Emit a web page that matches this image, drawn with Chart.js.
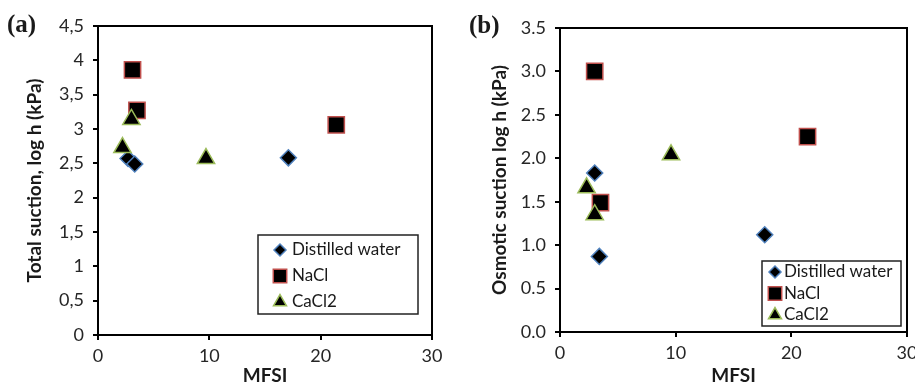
<!DOCTYPE html>
<html>
<head>
<meta charset="utf-8">
<script src="https://cdn.jsdelivr.net/npm/chart.js@4"></script>
<style>
    body { margin: 0; background: #fff; width: 915px; height: 387px; position: relative; overflow: hidden; }
    .panel { position: absolute; top: 0; height: 387px; overflow: hidden; }
    .tag { position: absolute; font: bold 25px "Liberation Serif", "DejaVu Serif", serif; line-height: 1; color: #1a1a1a; }
</style>
</head>
<body>
<div class="panel" style="left:0;width:457px"><canvas id="chartA" width="457" height="387"></canvas></div>
<div class="panel" style="left:457px;width:458px"><canvas id="chartB" width="475" height="387"></canvas></div>
<div class="tag" style="left:7px;top:11px">(a)</div>
<div class="tag" style="left:469px;top:12px">(b)</div>
<script>
// (a) total suction
const waterA_x = [2.7, 3.3, 17.1];
const waterA_y = [2.57, 2.49, 2.58];
const naclA_x = [3.1, 3.5, 21.4];
const naclA_y = [3.86, 3.27, 3.06];
const cacl2A_x = [2.2, 3.0, 9.7];
const cacl2A_y = [2.73, 3.14, 2.57];

// (b) osmotic suction
const waterB_x = [3.0, 3.4, 17.7];
const waterB_y = [1.83, 0.87, 1.12];
const naclB_x = [3.0, 3.5, 21.4];
const naclB_y = [3.0, 1.49, 2.25];
const cacl2B_x = [2.3, 3.0, 9.6];
const cacl2B_y = [1.66, 1.35, 2.04];

const seriesNames = ["Distilled water", "NaCl", "CaCl2"];

Chart.defaults.font.family = "Lato, 'Open Sans', sans-serif";
Chart.defaults.color = "#262626";

const pts = (xs, ys) => xs.map((x, i) => ({ x: x, y: ys[i] }));

function makeDatasets(wx, wy, nx, ny, cx, cy) {
    return [
        { label: seriesNames[0], data: pts(wx, wy), pointStyle: "rectRot", pointRadius: 8,
          pointBackgroundColor: "#000", pointBorderColor: "#4f81bd", pointBorderWidth: 1.5, order: 3 },
        { label: seriesNames[1], data: pts(nx, ny), pointStyle: "rect", pointRadius: 11.5,
          pointBackgroundColor: "#000", pointBorderColor: "#c0504d", pointBorderWidth: 1.5, order: 2 },
        { label: seriesNames[2], data: pts(cx, cy), pointStyle: "triangle", pointRadius: 10,
          pointBackgroundColor: "#000", pointBorderColor: "#9bbb59", pointBorderWidth: 1.5, order: 1 },
    ];
}

// black frame round the plot area
const frame = {
    id: "frame",
    beforeDatasetsDraw(chart) {
        const a = chart.chartArea, ctx = chart.ctx;
        ctx.save();
        ctx.strokeStyle = "#000";
        ctx.lineWidth = 2;
        ctx.strokeRect(a.left, a.top, a.right - a.left, a.bottom - a.top);
        ctx.restore();
    },
};

// legend box inside the plot, bottom right
const boxLegend = {
    id: "boxLegend",
    afterDraw(chart, args, o) {
        const a = chart.chartArea, ctx = chart.ctx;
        const x = a.right - o.right - o.width;
        const y = a.bottom - o.bottom - o.height;
        ctx.save();
        ctx.fillStyle = "#fff";
        ctx.fillRect(x, y, o.width, o.height);
        ctx.strokeStyle = "#222";
        ctx.lineWidth = 1.5;
        ctx.strokeRect(x, y, o.width, o.height);
        ctx.font = "17px Lato, 'Open Sans', sans-serif";
        ctx.textBaseline = "middle";
        chart.data.datasets.forEach((ds, i) => {
            const cy = y + o.firstRow + i * o.rowGap;
            ctx.fillStyle = ds.pointBackgroundColor;
            ctx.strokeStyle = ds.pointBorderColor;
            ctx.lineWidth = ds.pointBorderWidth;
            Chart.helpers.drawPoint(ctx, { pointStyle: ds.pointStyle, radius: o.marker[i], rotation: 0, borderWidth: ds.pointBorderWidth }, x + o.markerX, cy);
            ctx.fillStyle = "#1a1a1a";
            ctx.fillText(ds.label, x + o.textX, cy);
        });
        ctx.restore();
    },
};

function makeChart(id, datasets, cfg) {
    return new Chart(document.getElementById(id), {
        type: "scatter",
        data: { datasets: datasets },
        plugins: [frame, boxLegend],
        options: {
            responsive: false,
            animation: false,
            layout: { padding: { left: 0, top: cfg.top, right: cfg.right, bottom: 0 } },
            plugins: {
                legend: { display: false },
                tooltip: { enabled: false },
                boxLegend: cfg.legend,
            },
            scales: {
                x: {
                    type: "linear",
                    min: 0,
                    max: 30,
                    afterFit: (s) => { s.height = cfg.xHeight; },
                    ticks: { stepSize: 10, padding: 5, font: { size: 18 } },
                    grid: { drawOnChartArea: false, drawTicks: true, tickLength: 5, color: "#000", lineWidth: 2 },
                    border: { display: true, color: "#000", width: 2 },
                    title: { display: true, text: "MFSI", color: "#1a1a1a", padding: 0, font: { size: 19, weight: "bold" } },
                },
                y: {
                    min: 0,
                    max: cfg.yMax,
                    afterFit: (s) => { s.width = cfg.yWidth; },
                    ticks: { stepSize: 0.5, padding: 9, font: { size: 18 }, callback: cfg.fmt },
                    grid: { drawOnChartArea: false, drawTicks: true, tickLength: 5, color: "#000", lineWidth: 2 },
                    border: { display: true, color: "#000", width: 2 },
                    title: { display: true, text: cfg.yTitle, color: "#1a1a1a", padding: { top: cfg.titlePad, bottom: 0 }, font: { size: 19, weight: "bold" } },
                },
            },
        },
    });
}

makeChart("chartA", makeDatasets(waterA_x, waterA_y, naclA_x, naclA_y, cacl2A_x, cacl2A_y), {
    top: 26, right: 25, xHeight: 52, yWidth: 98, yMax: 4.5, titlePad: 23,
    yTitle: "Total suction, log h (kPa)",
    fmt: (v) => String(v).replace(".", ","),
    legend: { width: 160, height: 79, right: 14, bottom: 21, markerX: 22, textX: 34, firstRow: 15, rowGap: 26, marker: [6, 9.5, 7.5] },
});

makeChart("chartB", makeDatasets(waterB_x, waterB_y, naclB_x, naclB_y, cacl2B_x, cacl2B_y), {
    top: 28, right: 25, xHeight: 55, yWidth: 103, yMax: 3.5, titlePad: 31,
    yTitle: "Osmotic suction log h (kPa)",
    fmt: (v) => v.toFixed(1),
    legend: { width: 139, height: 65, right: 6, bottom: 6, markerX: 13, textX: 22, firstRow: 11, rowGap: 21.5, marker: [6, 9.5, 7.5] },
});
</script>
</body>
</html>
